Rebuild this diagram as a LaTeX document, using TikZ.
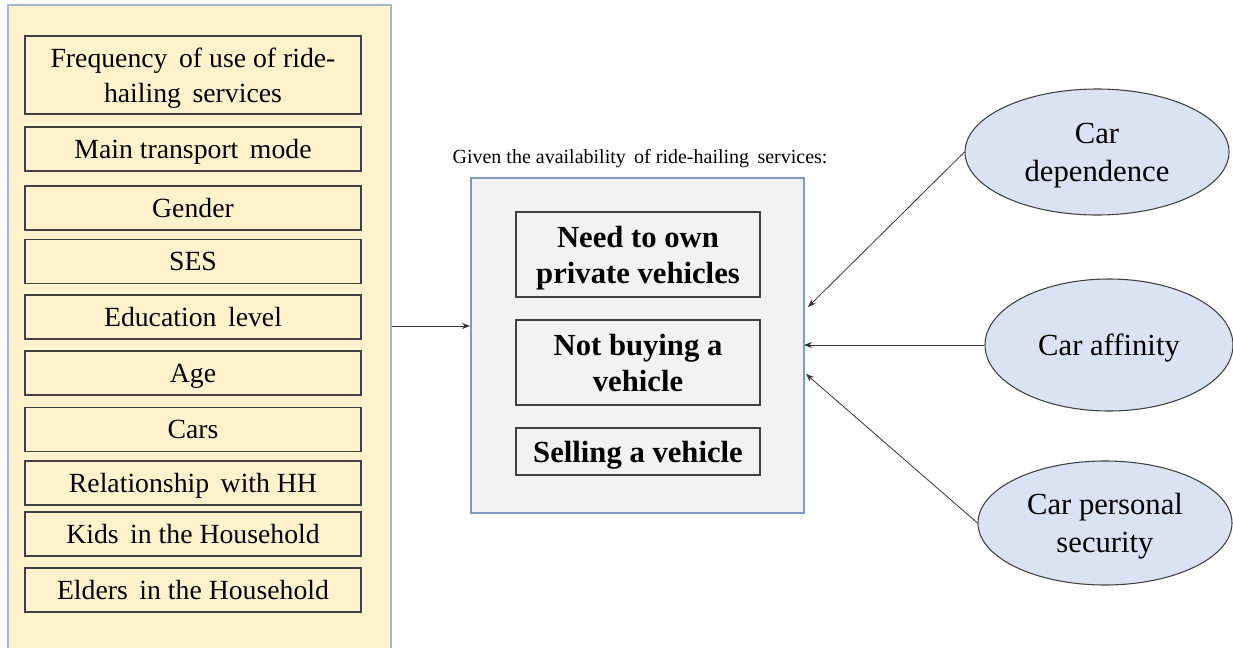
\documentclass[tikz,border=0pt]{standalone}
\usepackage{fontspec}
\setmainfont{Liberation Serif}
\usetikzlibrary{shapes.geometric,arrows.meta}
\definecolor{outerfill}{HTML}{FFF2CC}
\definecolor{outerline}{HTML}{A3B6CF}
\definecolor{midfill}{HTML}{F2F2F2}
\definecolor{midline}{HTML}{7F9AC0}
\definecolor{ellfill}{HTML}{DAE3F3}
\definecolor{boxline}{HTML}{404040}
\begin{document}
\begin{tikzpicture}[x=0.75pt,y=-0.75pt,
  lbox/.style={draw=boxline,line width=0.9pt,minimum width=252pt,minimum height=33pt,inner sep=0pt,text depth=0pt,align=center,font=\fontsize{20.8}{26}\selectfont},
  mbox/.style={draw=boxline,line width=0.9pt,minimum width=183pt,inner sep=0pt,text depth=0pt,align=center,font=\fontsize{23}{27}\selectfont\bfseries},
  ell/.style={ellipse,draw=boxline,line width=0.8pt,fill=ellfill,inner sep=0pt,text depth=0pt,align=center,font=\fontsize{23}{28.5}\selectfont},
  arr/.style={-{Stealth[length=6pt,width=4.5pt]},line width=0.6pt,draw=black!80}]
\useasboundingbox (0,0) rectangle (1233,647);
\node[draw=outerline,fill=outerfill,line width=0.9pt,minimum width=287.25pt,minimum height=483pt,inner sep=0pt] (outer) at (199.5,327) {};
\node[lbox,minimum height=58.5pt] (f1) at (193,75) {Frequency\, of use of ride-\\hailing\, services};
\node[lbox] (f2) at (193,149) {Main transport\, mode};
\node[lbox] (f3) at (193,208) {Gender};
\node[lbox] (f4) at (193,261.5) {SES};
\node[lbox] (f5) at (193,317) {Education\, level};
\node[lbox] (f6) at (193,373) {Age};
\node[lbox] (f7) at (193,429.5) {Cars};
\node[lbox] (f8) at (193,483) {Relationship\, with HH};
\node[lbox] (f9) at (193,534) {Kids\, in the Household};
\node[lbox] (f10) at (193,590) {Elders\, in the Household};
\node[draw=midline,fill=midfill,line width=0.9pt,minimum width=249.75pt,minimum height=251.25pt,inner sep=0pt] (mid) at (637.5,345.5) {};
\node[font=\fontsize{15}{18}\selectfont] (title) at (640,159) {Given the availability\, of ride-hailing\, services:};
\node[mbox,minimum height=63.75pt] (o1) at (638,254.5) {Need to own\\private vehicles};
\node[mbox,minimum height=63.75pt] (o2) at (638,362.5) {Not buying a\\vehicle};
\node[mbox,minimum height=35.25pt] (o3) at (638,451.5) {Selling a vehicle};
\node[ell,minimum width=198pt,minimum height=94.5pt] (dep) at (1097,152) {Car\\dependence};
\node[ell,minimum width=186pt,minimum height=99pt] (aff) at (1109,345) {Car affinity};
\node[ell,minimum width=190.5pt,minimum height=93pt] (sec) at (1105,523) {Car personal\\security};
\coordinate (t1) at (808,307);
\coordinate (t2) at (804,345);
\coordinate (t3) at (806,374);
\coordinate (t0) at (470,326);
\draw[arr] (outer.east |- t0) -- (t0);
\draw[arr] (dep.west) -- (t1);
\draw[arr] (aff.west) -- (t2);
\draw[arr] (sec.west) -- (t3);
\end{tikzpicture}
\end{document}
